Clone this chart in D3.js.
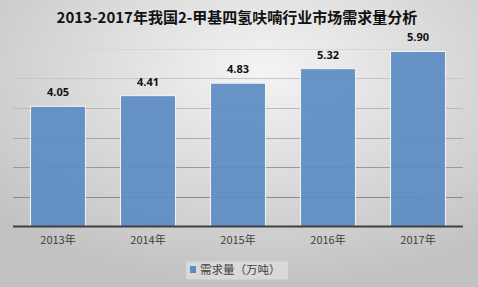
<!DOCTYPE html>
<html>
<head>
<meta charset="utf-8">
<script src="https://cdn.jsdelivr.net/npm/d3@7"></script>
<style>
body { margin: 0; }
svg { display: block; }
</style>
</head>
<body>
<svg id="chart"></svg>
<script>
var svgWidth = 478;
var svgHeight = 287;

var years = ["2013年", "2014年", "2015年", "2016年", "2017年"];
var demand = [4.05, 4.41, 4.83, 5.32, 5.90];
var gridValues = [1, 2, 3, 4, 5, 6];
var titleText = "2013-2017年我国2-甲基四氢呋喃行业市场需求量分析";
var legendText = "需求量（万吨）";

var svg = d3.select("#chart")
  .attr("width", svgWidth)
  .attr("height", svgHeight);

// background gradient
var defs = svg.append("defs");
var bg = defs.append("radialGradient")
  .attr("id", "bg")
  .attr("cx", "55%").attr("cy", "25%").attr("r", "75%");
bg.append("stop").attr("offset", "0%").attr("stop-color", "#f4f4f4");
bg.append("stop").attr("offset", "100%").attr("stop-color", "#c2c2c2");

svg.append("rect")
  .attr("width", svgWidth).attr("height", svgHeight)
  .attr("fill", "url(#bg)");

var x = d3.scaleBand()
  .domain(years)
  .range([13, 463])
  .paddingInner(0.39)
  .paddingOuter(0.195);

var y = d3.scaleLinear()
  .domain([0, 6])
  .range([226.5, 48.5]);

var gridColor = d3.scaleLinear()
  .domain([1, 6])
  .range(["#8a8a8a", "#d6d6d6"]);

// grid lines
svg.selectAll("line.grid")
  .data(gridValues)
  .enter()
  .append("line")
  .attr("class", "grid")
  .attr("x1", 13).attr("x2", 463)
  .attr("y1", function(d){ return Math.round(y(d)) + 0.5; })
  .attr("y2", function(d){ return Math.round(y(d)) + 0.5; })
  .attr("stroke", function(d){ return gridColor(d); })
  .attr("stroke-width", 1);

// bars
svg.selectAll("rect.bar")
  .data(demand)
  .enter()
  .append("rect")
  .attr("class", "bar")
  .attr("x", function(d, i){ return x(years[i]); })
  .attr("y", function(d){ return y(d); })
  .attr("width", x.bandwidth())
  .attr("height", function(d){ return y(0) - y(d); })
  .attr("fill", "#5b8bc3")
  .attr("fill-opacity", 0.92)
  .attr("stroke", "#f4f4f4")
  .attr("stroke-width", 1);

// value labels
svg.selectAll("text.val")
  .data(demand)
  .enter()
  .append("text")
  .attr("class", "val")
  .attr("x", function(d, i){ return x(years[i]) + x.bandwidth() / 2; })
  .attr("y", function(d){ return y(d) - 10; })
  .attr("text-anchor", "middle")
  .attr("font-family", "'Noto Sans', 'Liberation Sans', sans-serif")
  .attr("font-weight", "bold")
  .attr("font-size", 11)
  .attr("fill", "#111")
  .text(function(d){ return d.toFixed(2); });

// axis line
svg.append("line")
  .attr("x1", 13).attr("x2", 463)
  .attr("y1", y(0)).attr("y2", y(0))
  .attr("stroke", "#404040")
  .attr("stroke-width", 2);

// x axis labels
var xAxis = d3.axisBottom(x).tickSize(0).tickPadding(10);
var gx = svg.append("g")
  .attr("transform", "translate(0," + y(0) + ")")
  .call(xAxis);
gx.select(".domain").remove();
gx.selectAll("text")
  .attr("font-family", "'Noto Sans CJK SC', sans-serif")
  .attr("font-size", 11)
  .attr("fill", "#404040");

// title
svg.append("text")
  .attr("x", 237)
  .attr("y", 23)
  .attr("text-anchor", "middle")
  .attr("font-family", "'Noto Sans CJK SC', sans-serif")
  .attr("font-weight", "bold")
  .attr("font-size", 15)
  .attr("fill", "#111")
  .text(titleText);

// legend
var legend = svg.append("g");
legend.append("rect")
  .attr("x", 186).attr("y", 261.5)
  .attr("width", 102).attr("height", 18)
  .attr("fill", "#e6e6e6")
  .attr("fill-opacity", 0.6);
legend.append("rect")
  .attr("x", 190).attr("y", 266)
  .attr("width", 6).attr("height", 7)
  .attr("fill", "#5b8bc3");
legend.append("text")
  .attr("x", 200).attr("y", 274)
  .attr("font-family", "'Noto Sans CJK SC', sans-serif")
  .attr("font-size", 11.5)
  .attr("fill", "#404040")
  .text(legendText);
</script>
</body>
</html>
